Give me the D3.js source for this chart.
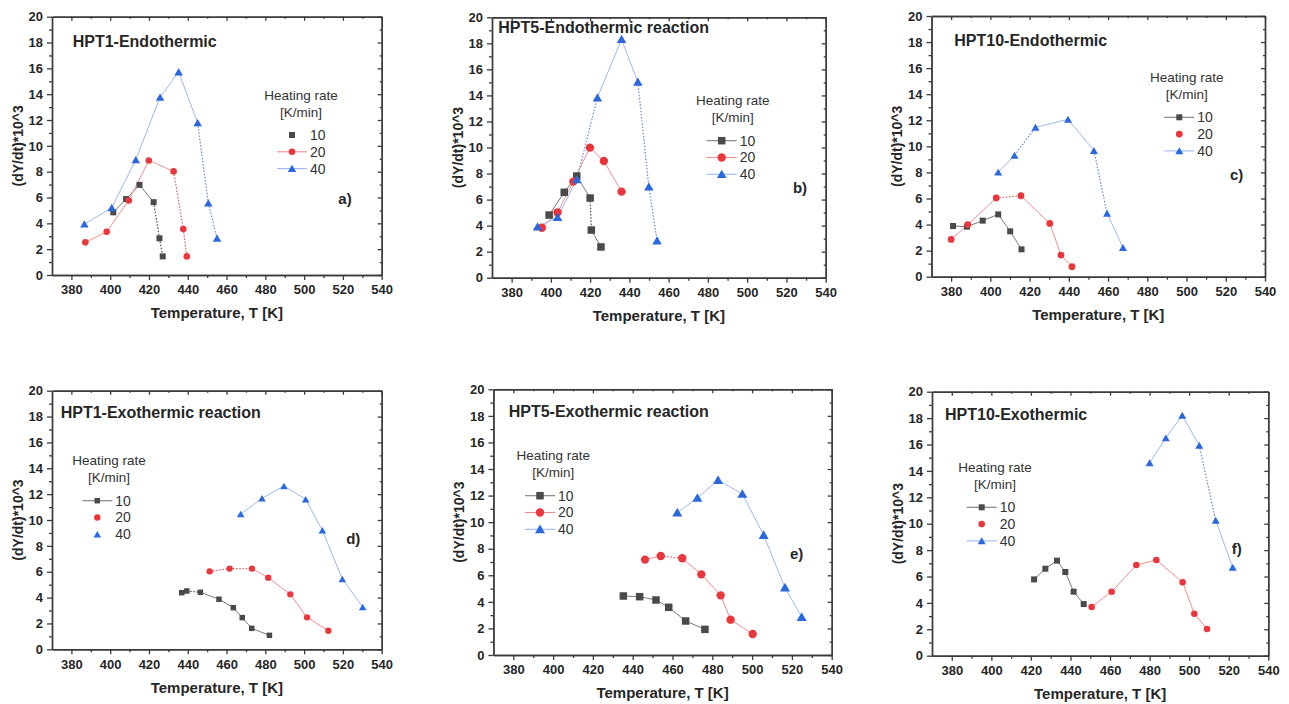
<!DOCTYPE html>
<html>
<head>
<meta charset="utf-8">
<script src="https://cdn.jsdelivr.net/npm/d3@7"></script>
<style>
  html, body { margin: 0; padding: 0; background: #fff; }
  svg { display: block; font-family: "Liberation Sans", Arial, sans-serif; }
</style>
</head>
<body>
<svg id="chart" width="1289" height="704"></svg>
<script>
// ---- data ---------------------------------------------------------------
const rates = ["10", "20", "40"];
const titles = [
  "HPT1-Endothermic", "HPT5-Endothermic reaction", "HPT10-Endothermic",
  "HPT1-Exothermic reaction", "HPT5-Exothermic reaction", "HPT10-Exothermic"
];
const tags = ["a)", "b)", "c)", "d)", "e)", "f)"];
const xTickValues = [380, 400, 420, 440, 460, 480, 500, 520, 540];
const yTickValues = [0, 2, 4, 6, 8, 10, 12, 14, 16, 18, 20];
const xMinorValues = [390, 410, 430, 450, 470, 490, 510, 530];
const yMinorValues = [1, 3, 5, 7, 9, 11, 13, 15, 17, 19];

// [temperature K, (dY/dt)*10^3]
const a10 = [[401.6,4.85],[408.2,5.88],[415.1,6.98],[422.4,5.64],[425.4,2.84],[427.1,1.44]];
const a20 = [[387.2,2.53],[398.2,3.35],[409.6,5.77],[419.9,8.87],[432.7,8.02],[437.7,3.56],[439.5,1.44]];
const a40 = [[386.7,3.94],[400.8,5.21],[413.2,8.92],[425.7,13.76],[435.3,15.72],[445.1,11.78],[450.6,5.57],[455.1,2.84]];

const b10 = [[399.1,4.81],[406.8,6.56],[413.2,7.81],[420.0,6.12],[420.6,3.66],[425.5,2.36]];
const b20 = [[395.4,3.84],[403.4,5.02],[411.4,7.38],[419.9,9.99],[427.0,8.96],[436.0,6.61]];
const b40 = [[393.2,3.92],[403.4,4.64],[413.2,7.55],[423.7,13.83],[436.0,18.31],[444.3,15.03],[449.9,6.99],[454.1,2.84]];

const c10 = [[381.0,3.89],[388.1,3.84],[396.1,4.30],[404.0,4.78],[410.1,3.48],[415.9,2.10]];
const c20 = [[380.0,2.86],[388.5,3.99],[403.0,6.04],[415.6,6.21],[430.3,4.09],[436.0,1.66],[441.6,0.77]];
const c40 = [[404.0,8.01],[412.3,9.31],[423.0,11.46],[439.6,12.07],[452.8,9.67],[459.5,4.86],[467.6,2.23]];

const d10 = [[436.9,4.38],[439.5,4.51],[446.5,4.41],[456.1,3.87],[463.5,3.22],[468.1,2.45],[473.0,1.62],[482.1,1.08]];
const d20 = [[451.3,6.03],[461.6,6.24],[473.1,6.24],[481.5,5.54],[492.9,4.25],[501.5,2.47],[512.5,1.44]];
const d40 = [[467.3,10.46],[478.3,11.68],[489.6,12.63],[500.8,11.60],[509.4,9.20],[519.7,5.44],[530.2,3.27]];

const e10 = [[435.3,4.44],[443.5,4.39],[451.7,4.14],[458.1,3.59],[466.6,2.56],[476.3,1.93]];
const e20 = [[446.2,7.18],[454.1,7.45],[464.9,7.28],[474.5,6.07],[484.2,4.49],[489.2,2.66],[500.3,1.58]];
const e40 = [[462.4,10.72],[472.5,11.82],[482.9,13.17],[495.1,12.12],[505.8,9.03],[516.5,5.07],[524.9,2.86]];

const f10 = [[421.6,5.78],[427.3,6.59],[433.2,7.20],[437.4,6.34],[441.6,4.85],[446.7,3.91]];
const f20 = [[450.7,3.69],[460.8,4.85],[473.3,6.87],[483.4,7.25],[496.7,5.56],[502.6,3.18],[509.0,2.02]];
const f40 = [[480.0,14.60],[488.2,16.49],[496.5,18.21],[505.1,15.93],[513.4,10.25],[522.0,6.69]];

const panelSeries = [[a10, a20, a40], [b10, b20, b40], [c10, c20, c40],
                     [d10, d20, d40], [e10, e20, e40], [f10, f20, f40]];

// ---- layout & style -----------------------------------------------------
// dotted: for each series, indices of segments (start point) drawn dotted
const panels = [
  { x0: 52,    x1: 381.7,  y0: 16.7,  y1: 275,   title: [72.7, 41.7],  tag: [345, 198.3],
    leg: { mx: 292,    my: 135,   hx: 301,    lines: [false, true, true] },  mk: { sq: 6,   r: 3.3, tri: 8.5 },
    dotted: [[3, 4], [4, 5], [5, 6]] },
  { x0: 492,   x1: 825.7,  y0: 17.3,  y1: 277.7, title: [498.3, 27.7], tag: [800, 187.7],
    leg: { mx: 721.7,  my: 140.7, hx: 732.7,  lines: [true, true, true] },   mk: { sq: 7.5, r: 4.2, tri: 9.5 },
    dotted: [[3], [], [2, 5, 6]] },
  { x0: 931.5, x1: 1265,   y0: 16,    y1: 276.7, title: [954.3, 40],   tag: [1236.7, 175],
    leg: { mx: 1179.3, my: 117.3, hx: 1186.7, lines: [true, false, true] },  mk: { sq: 6,   r: 3.4, tri: 8 },
    dotted: [[], [2], [1, 4]] },
  { x0: 52,    x1: 381.7,  y0: 390.7, y1: 649.3, title: [60.7, 412.7], tag: [353.3, 538.3],
    leg: { mx: 97.3,   my: 500.7, hx: 109,    lines: [true, false, false] }, mk: { sq: 5.5, r: 3.2, tri: 7.5 },
    dotted: [[1], [0, 1], []] },
  { x0: 493.4, x1: 831.7,  y0: 389.3, y1: 655,   title: [508.7, 411.3], tag: [796.7, 553.3],
    leg: { mx: 540,    my: 495.7, hx: 553.3,  lines: [true, true, true] },   mk: { sq: 7.5, r: 4.2, tri: 10 },
    dotted: [[], [1], []] },
  { x0: 932,   x1: 1268.3, y0: 391.7, y1: 655.7, title: [945, 414],    tag: [1236.7, 548.3],
    leg: { mx: 981.7,  my: 507.3, hx: 995,    lines: [true, false, true] },  mk: { sq: 6,   r: 3.3, tri: 8 },
    dotted: [[], [], [3]] }
];

const markerFill = ["#4a4a4a", "#e8383d", "#2a68dc"];
const lineColor  = ["#7a7a7a", "#f28e8e", "#9db8ec"];
const dotColor   = ["#555555", "#d86a6a", "#6f8fcf"];
const shapes     = [d3.symbolSquare, d3.symbolCircle, d3.symbolTriangle];
const axisColor  = "#3a3a3a";
const textColor  = "#262626";

function symbolArea(kind, mk) {
  if (kind === 0) return mk.sq * mk.sq;
  if (kind === 1) return Math.PI * mk.r * mk.r;
  return Math.sqrt(3) / 4 * mk.tri * mk.tri;
}

const svg = d3.select("#chart");
svg.append("rect").attr("width", 1289).attr("height", 704).attr("fill", "#fff");

panels.forEach((p, i) => {
  const x = d3.scaleLinear().domain([370, 540]).range([p.x0, p.x1]);
  const y = d3.scaleLinear().domain([0, 20]).range([p.y1, p.y0]);
  const g = svg.append("g");

  const styleAxis = sel => {
    sel.select(".domain").attr("stroke", axisColor).attr("stroke-width", 1.4);
    sel.selectAll(".tick line").attr("stroke", axisColor).attr("stroke-width", 1.3);
    sel.selectAll(".tick text")
      .attr("fill", textColor)
      .attr("font-size", 13)
      .attr("font-weight", "bold")
      .attr("font-family", "Liberation Sans, Arial, sans-serif");
  };

  // bottom & left axes: outward ticks with labels
  g.append("g").attr("transform", `translate(0,${p.y1})`)
    .call(d3.axisBottom(x).tickValues(xTickValues).tickSizeInner(5).tickSizeOuter(0).tickPadding(5))
    .call(styleAxis);
  g.append("g").attr("transform", `translate(${p.x0},0)`)
    .call(d3.axisLeft(y).tickValues(yTickValues).tickSizeInner(5).tickSizeOuter(0).tickPadding(4))
    .call(styleAxis);
  g.append("g").attr("transform", `translate(0,${p.y1})`)
    .call(d3.axisBottom(x).tickValues(xMinorValues).tickSizeInner(3).tickSizeOuter(0).tickFormat(""))
    .call(styleAxis);
  g.append("g").attr("transform", `translate(${p.x0},0)`)
    .call(d3.axisLeft(y).tickValues(yMinorValues).tickSizeInner(3).tickSizeOuter(0).tickFormat(""))
    .call(styleAxis);

  // top & right frame: inward ticks, no labels
  g.append("g").attr("transform", `translate(0,${p.y0})`)
    .call(d3.axisTop(x).tickValues(xTickValues).tickSizeInner(-4).tickSizeOuter(0).tickFormat(""))
    .call(styleAxis);
  g.append("g").attr("transform", `translate(0,${p.y0})`)
    .call(d3.axisTop(x).tickValues(xMinorValues).tickSizeInner(-2).tickSizeOuter(0).tickFormat(""))
    .call(styleAxis);
  g.append("g").attr("transform", `translate(${p.x1},0)`)
    .call(d3.axisRight(y).tickValues(yTickValues).tickSizeInner(-4).tickSizeOuter(0).tickFormat(""))
    .call(styleAxis);
  g.append("g").attr("transform", `translate(${p.x1},0)`)
    .call(d3.axisRight(y).tickValues(yMinorValues).tickSizeInner(-2).tickSizeOuter(0).tickFormat(""))
    .call(styleAxis);

  // axis titles
  g.append("text")
    .attr("x", (p.x0 + p.x1) / 2).attr("y", p.y1 + 38).attr("dy", "0.35em")
    .attr("text-anchor", "middle").attr("font-size", 15).attr("font-weight", "bold")
    .attr("fill", textColor).text("Temperature, T [K]");
  g.append("text")
    .attr("transform", `translate(${p.x0 - 34},${(p.y0 + p.y1) / 2}) rotate(-90)`)
    .attr("dy", "0.35em").attr("text-anchor", "middle")
    .attr("font-size", 14).attr("font-weight", "bold")
    .attr("fill", textColor).text("(dY/dt)*10^3");

  // panel title and tag
  g.append("text")
    .attr("x", p.title[0]).attr("y", p.title[1]).attr("dy", "0.35em")
    .attr("font-size", 16).attr("font-weight", "bold").attr("fill", textColor)
    .text(titles[i]);
  g.append("text")
    .attr("x", p.tag[0]).attr("y", p.tag[1]).attr("dy", "0.35em")
    .attr("text-anchor", "middle").attr("font-size", 15).attr("font-weight", "bold")
    .attr("fill", textColor).text(tags[i]);

  // series: connecting segments (solid or dotted) then markers
  panelSeries[i].forEach((data, k) => {
    const dots = p.dotted[k];
    const segs = d3.pairs(data).map((pr, j) => ({ a: pr[0], b: pr[1], dotted: dots.includes(j) }));
    g.selectAll(null).data(segs).join("line")
      .attr("x1", s => x(s.a[0])).attr("y1", s => y(s.a[1]))
      .attr("x2", s => x(s.b[0])).attr("y2", s => y(s.b[1]))
      .attr("stroke", s => s.dotted ? dotColor[k] : lineColor[k])
      .attr("stroke-width", s => s.dotted ? 1.2 : 1)
      .attr("stroke-dasharray", s => s.dotted ? "1.6,1.6" : null);
  });
  panelSeries[i].forEach((data, k) => {
    const sym = d3.symbol().type(shapes[k]).size(symbolArea(k, p.mk));
    g.selectAll(null).data(data).join("path")
      .attr("d", sym)
      .attr("transform", d => `translate(${x(d[0])},${y(d[1]) + (k === 2 ? 1 : 0)})`)
      .attr("fill", markerFill[k]);
  });

  // legend
  const L = p.leg;
  g.append("text").attr("x", L.hx).attr("y", L.my - 40).attr("dy", "0.35em")
    .attr("text-anchor", "middle").attr("font-size", 13.5).attr("fill", "#333")
    .text("Heating rate");
  g.append("text").attr("x", L.hx).attr("y", L.my - 23).attr("dy", "0.35em")
    .attr("text-anchor", "middle").attr("font-size", 13.5).attr("fill", "#333")
    .text("[K/min]");
  rates.forEach((r, k) => {
    const yy = L.my + k * 16.8;
    if (L.lines[k]) {
      g.append("line").attr("x1", L.mx - 15).attr("x2", L.mx + 15)
        .attr("y1", yy).attr("y2", yy)
        .attr("stroke", lineColor[k]).attr("stroke-width", 1.1);
    }
    g.append("path")
      .attr("d", d3.symbol().type(shapes[k]).size(symbolArea(k, p.mk))())
      .attr("transform", `translate(${L.mx},${yy + (k === 2 ? 1 : 0)})`)
      .attr("fill", markerFill[k]);
    g.append("text").attr("x", L.mx + 18).attr("y", yy).attr("dy", "0.35em")
      .attr("font-size", 14).attr("fill", "#333").text(r);
  });
});
</script>
</body>
</html>
